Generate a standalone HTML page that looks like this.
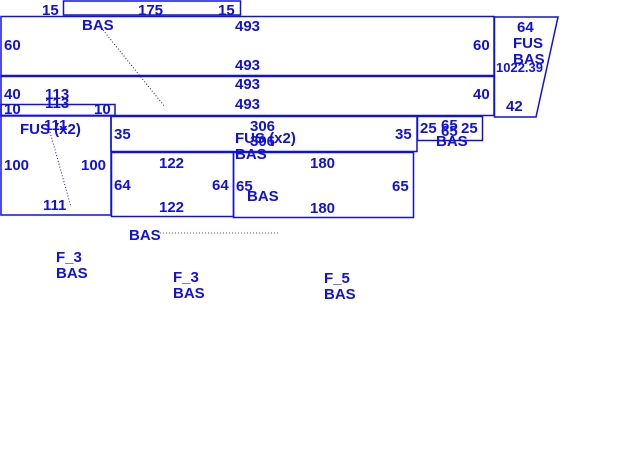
<!DOCTYPE html>
<html><head><style>
body{margin:0;background:#fff;width:627px;height:467px;overflow:hidden}
svg text{font-family:"Liberation Sans",sans-serif;font-weight:bold;font-size:15px;fill:#1010e0}
</style></head><body>
<svg width="627" height="467" xmlns="http://www.w3.org/2000/svg">
<g fill="none" stroke="#1010e0" stroke-width="1.5">
<rect x="63.5" y="1" width="177" height="14"/>
<rect x="1" y="16.5" width="493" height="59"/>
<rect x="1" y="76.5" width="493" height="39"/>
<rect x="1" y="104.5" width="114" height="11"/>
<rect x="1" y="116" width="110" height="99"/>
<rect x="111" y="116.5" width="306" height="35"/>
<rect x="111.5" y="152.5" width="122" height="64"/>
<rect x="233.5" y="152.5" width="180" height="65"/>
<rect x="417.5" y="116.5" width="65" height="24"/>
<polygon points="494.5,17 558,17 536,117 494.5,117"/>
</g>
<g stroke="#1010e0" stroke-width="1" stroke-dasharray="1,2" fill="none">
<line x1="103" y1="30" x2="165" y2="107"/>
<line x1="50" y1="132" x2="71" y2="207"/>
</g>
<line x1="160" y1="233" x2="278" y2="233" stroke="#c03030" stroke-width="1" stroke-dasharray="1,2"/>
<text x="42" y="15">15</text><text x="138" y="15">175</text><text x="218" y="15">15</text>
<text x="82" y="30">BAS</text><text x="235" y="31">493</text>
<text x="4" y="50">60</text><text x="473" y="50">60</text>
<text x="235" y="70">493</text><text x="235" y="89">493</text>
<text x="4" y="99">40</text><text x="45" y="99">113</text><text x="45" y="108">113</text>
<text x="235" y="109">493</text><text x="473" y="99">40</text>
<text x="4" y="114">10</text><text x="94" y="114">10</text>
<text x="44" y="130">111</text>
<text x="20" y="134">FUS (x2)</text><text x="114" y="139">35</text>
<text x="250" y="131">306</text><text x="235" y="143">FUS (x2)</text><text x="250" y="146">306</text>
<text x="235" y="159">BAS</text><text x="395" y="139">35</text>
<text x="420" y="133">25</text><text x="441" y="130">65</text><text x="441" y="136">65</text><text x="461" y="133">25</text>
<text x="436" y="146">BAS</text>
<text x="4" y="170">100</text><text x="81" y="170">100</text>
<text x="159" y="168">122</text><text x="310" y="168">180</text>
<text x="114" y="190">64</text><text x="212" y="190">64</text>
<text x="236" y="191">65</text><text x="247" y="201">BAS</text><text x="392" y="191">65</text>
<text x="43" y="210">111</text><text x="159" y="212">122</text><text x="310" y="213">180</text>
<text x="517" y="32">64</text><text x="513" y="48">FUS</text><text x="513" y="64">BAS</text>
<text x="496" y="72" style="font-size:13px">1022.39</text>
<text x="506" y="111">42</text>
<text x="129" y="240">BAS</text>
<text x="56" y="262">F_3</text><text x="56" y="278">BAS</text>
<text x="173" y="282">F_3</text><text x="173" y="298">BAS</text>
<text x="324" y="283">F_5</text><text x="324" y="299">BAS</text>
</svg>
</body></html>
